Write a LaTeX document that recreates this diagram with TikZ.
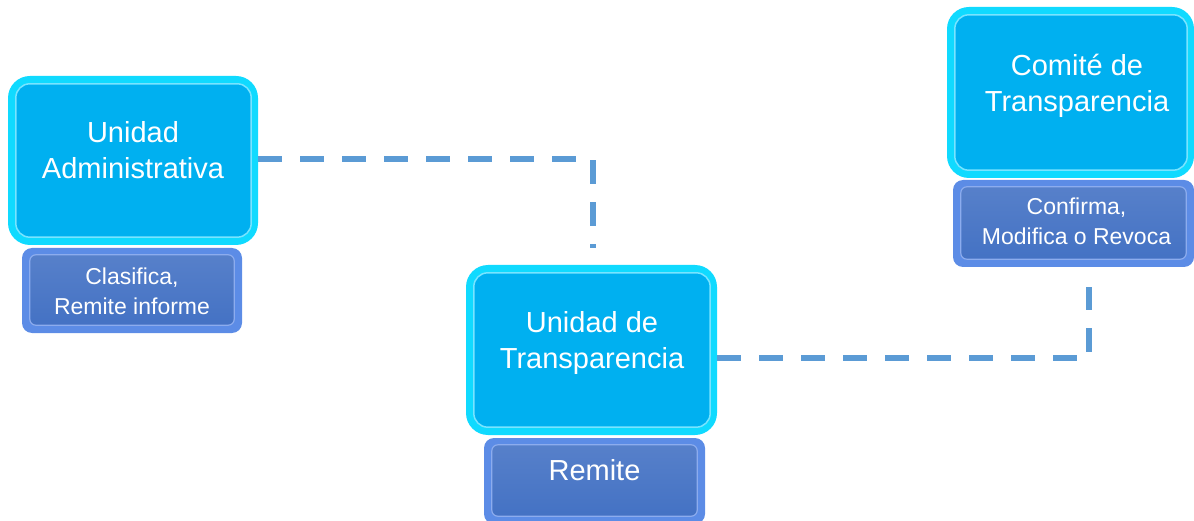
\documentclass[tikz,border=0pt]{standalone}
\usepackage{fontspec}
\setmainfont{Liberation Sans}
\usetikzlibrary{calc}
\definecolor{rim}{RGB}{16,218,255}
\definecolor{boxin}{RGB}{0,176,240}
\definecolor{bevel}{RGB}{120,228,255}
\definecolor{subrim}{RGB}{92,140,230}
\definecolor{subin}{RGB}{68,114,196}
\definecolor{subbevel}{RGB}{140,172,238}
\definecolor{conncol}{RGB}{91,155,213}
\tikzset{
  bigbox/.style={fill=rim, draw=none, rounded corners=22pt, inner sep=0pt},
  biginner/.style={fill=boxin, draw=bevel, line width=1.5pt, rounded corners=14pt},
  subbox/.style={fill=subrim, draw=none, rounded corners=10pt, inner sep=0pt},
  subinner/.style={top color=subin!90!white, bottom color=subin, draw=subbevel, line width=1.2pt, rounded corners=6pt},
  bigtext/.style={text=white, align=center, anchor=north, inner sep=0pt, font=\fontsize{29}{36}\selectfont},
  subtext/.style={text=white, align=center, anchor=north, inner sep=0pt, font=\fontsize{23}{30}\selectfont},
  conn/.style={draw=conncol, line width=6pt, dash pattern=on 24pt off 18pt, line cap=butt}
}
\begin{document}
\begin{tikzpicture}[x=1pt,y=-1pt]
\useasboundingbox (0,0) rectangle (1194,521);
% outer boxes
\node[bigbox, minimum width=250pt, minimum height=169pt] (ua) at (133,160.5) {};
\node[subbox, minimum width=220pt, minimum height=85pt] (uasub) at (132,290.5) {};
\node[bigbox, minimum width=251pt, minimum height=170pt] (ut) at (591.5,350) {};
\node[subbox, minimum width=221pt, minimum height=86pt] (utsub) at (594.5,481) {};
\node[bigbox, minimum width=247pt, minimum height=171pt] (ct) at (1070.5,92.5) {};
\node[subbox, minimum width=241pt, minimum height=87pt] (ctsub) at (1073.5,223.5) {};
% inner faces
\foreach \n in {ua,ut,ct}
  \draw[biginner] ($(\n.north west)+(8,8)$) rectangle ($(\n.south east)+(-7,-8)$);
\foreach \n in {uasub,utsub,ctsub}
  \draw[subinner] ($(\n.north west)+(8,7)$) rectangle ($(\n.south east)+(-8,-8)$);
% texts
\node[bigtext] (uat) at (133,121) {Unidad\\Administrativa};
\node[subtext] (uast) at (132,267.5) {Clasifica,\\Remite informe};
\node[bigtext] (utt) at (592,311) {Unidad de\\Transparencia};
\node[bigtext] (utst) at (594.5,459) {Remite};
\node[bigtext] (ctt) at (1077,53.5) {Comité de\\Transparencia};
\node[subtext] (ctst) at (1076.5,198) {Confirma,\\Modifica o Revoca};
% connectors
\coordinate (c1end) at (593,248);
\coordinate (c2end) at (1089,287);
\draw[conn] ([yshift=1.5pt]ua.east) -| (c1end);
\draw[conn] ([yshift=-8pt]ut.east) -| (c2end);
\end{tikzpicture}
\end{document}
